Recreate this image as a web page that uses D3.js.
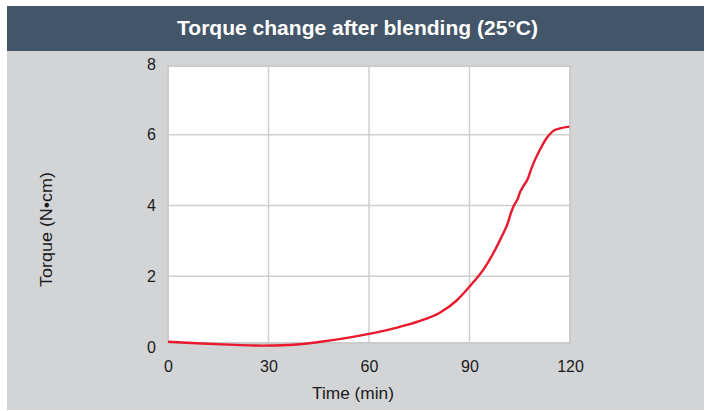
<!DOCTYPE html>
<html>
<head>
<meta charset="utf-8">
<script src="https://cdn.jsdelivr.net/npm/d3@7"></script>
<style>
  body { margin: 0; background: #fff; }
  svg { display: block; font-family: "Liberation Sans", Arial, sans-serif; }
</style>
</head>
<body>
<div id="chart"></div>
<script>
// Torque curve
const timeMin = [0, 10, 20, 28, 36, 45, 53, 60, 68, 75, 81, 86, 91.3, 94.1, 97.1, 99.6, 101.6, 101.9, 103.1, 104.6, 104.9, 106.1, 107.6, 107.9, 109.0, 111.0, 113.0, 115.0, 117.0, 119.8];
const torque  = [0.15, 0.10, 0.06, 0.04, 0.055, 0.14, 0.25, 0.37, 0.54, 0.73, 0.96, 1.30, 1.85, 2.18, 2.65, 3.12, 3.55, 3.65, 3.97, 4.24, 4.33, 4.55, 4.80, 4.89, 5.17, 5.57, 5.90, 6.11, 6.18, 6.23];
const xTicks = [0, 30, 60, 90, 120];
const yTicks = [0, 2, 4, 6, 8];
const titleText = 'Torque change after blending (25°C)';

const W = 705, H = 411;
const svg = d3.select('#chart').append('svg')
    .attr('width', W).attr('height', H);

// panel + title bar
svg.append('rect').attr('x', 7).attr('y', 51).attr('width', 697).attr('height', 359).attr('fill', '#d3d4d6');
svg.append('rect').attr('x', 7).attr('y', 6).attr('width', 697).attr('height', 45).attr('fill', '#435568');
svg.append('text')
    .attr('x', 357.5).attr('y', 35)
    .attr('text-anchor', 'middle')
    .attr('fill', '#fff')
    .attr('font-size', '21px').attr('font-weight', 'bold')
    .attr('textLength', 361).attr('lengthAdjust', 'spacingAndGlyphs')
    .text(titleText);

// scales
const x = d3.scaleLinear().domain([0, 120]).range([168, 570]);
const y = d3.scaleLinear().domain([0, 8]).range([347, 64]);
const plotTop = 66, plotBottom = 343;

// plot background
svg.append('rect')
    .attr('x', x(0)).attr('y', plotTop)
    .attr('width', x(120) - x(0)).attr('height', plotBottom - plotTop)
    .attr('fill', '#fff').attr('stroke', '#cbcbcb').attr('stroke-width', 2);

// grid
svg.append('g').selectAll('line')
    .data(xTicks.filter(d => d > 0 && d < 120))
    .join('line')
    .attr('x1', d => x(d)).attr('x2', d => x(d))
    .attr('y1', plotTop).attr('y2', plotBottom)
    .attr('stroke', '#cfcfcf').attr('stroke-width', 1.5);
svg.append('g').selectAll('line')
    .data(yTicks.filter(d => d > 0 && d < 8))
    .join('line')
    .attr('x1', x(0)).attr('x2', x(120))
    .attr('y1', d => y(d)).attr('y2', d => y(d))
    .attr('stroke', '#cfcfcf').attr('stroke-width', 1.5);

// axes (labels only)
const xAxis = svg.append('g')
    .attr('transform', `translate(0,${y(0)})`)
    .call(d3.axisBottom(x).tickValues(xTicks).tickSize(0).tickPadding(14));
const yAxis = svg.append('g')
    .attr('transform', `translate(${x(0)},0)`)
    .call(d3.axisLeft(y).tickValues(yTicks).tickSize(0).tickPadding(12));
[xAxis, yAxis].forEach(g => {
    g.select('.domain').remove();
    g.selectAll('text')
        .attr('font-size', '16px')
        .attr('font-family', '"Liberation Sans", Arial, sans-serif')
        .attr('fill', '#1a1a1a');
});

// axis titles
svg.append('text')
    .attr('x', 353).attr('y', 399)
    .attr('text-anchor', 'middle')
    .attr('font-size', '16px').attr('fill', '#1a1a1a')
    .attr('textLength', 82).attr('lengthAdjust', 'spacingAndGlyphs')
    .text('Time (min)');
svg.append('text')
    .attr('transform', 'translate(52,229.5) rotate(-90)')
    .attr('text-anchor', 'middle')
    .attr('font-size', '16px').attr('fill', '#1a1a1a')
    .attr('textLength', 115).attr('lengthAdjust', 'spacingAndGlyphs')
    .text('Torque (N•cm)');

// curve
const pts = timeMin.map((t, i) => [t, torque[i]]);
svg.append('path')
    .datum(pts)
    .attr('fill', 'none')
    .attr('stroke', '#e8192c')
    .attr('stroke-width', 2.4)
    .attr('stroke-linejoin', 'round')
    .attr('d', d3.line().x(d => x(d[0])).y(d => y(d[1])).curve(d3.curveMonotoneX));
</script>
</body>
</html>
